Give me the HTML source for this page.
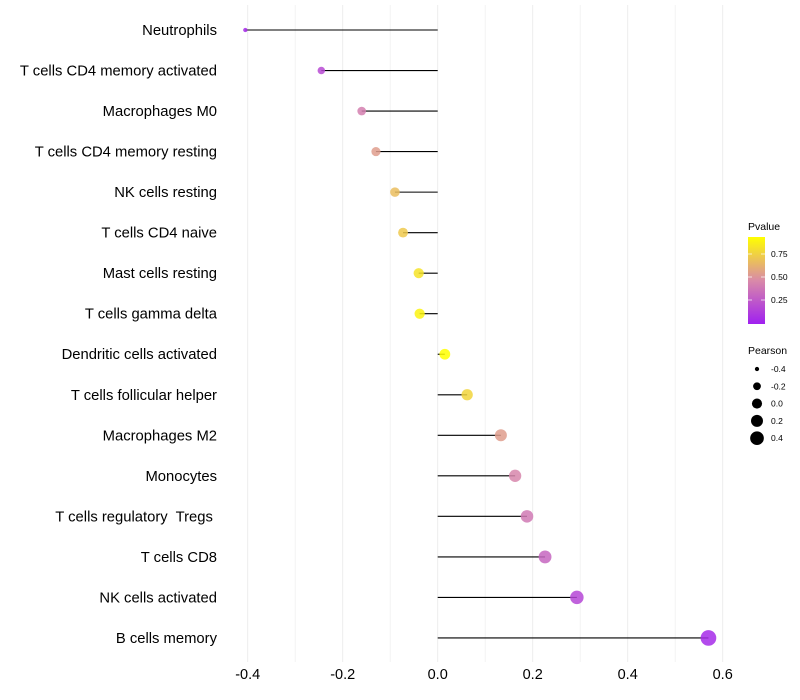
<!DOCTYPE html>
<html><head><meta charset="utf-8"><style>
body{margin:0;background:#fff;font-family:"Liberation Sans",sans-serif}
svg{display:block}
text{white-space:pre}
</style></head><body>
<svg id="chart" width="800" height="700" xmlns="http://www.w3.org/2000/svg">
<defs>
<linearGradient id="pg" x1="0" y1="1" x2="0" y2="0">
<stop offset="0" stop-color="#A020F0"/>
<stop offset="0.5" stop-color="#D98AA8"/>
<stop offset="1" stop-color="#FFFF00"/>
</linearGradient>
</defs>
<g id="grid"></g>
<g id="marks"></g>
<g id="ylabels"></g>
<g id="xlabels"></g>
<g>
<text x="748" y="230" font-size="10.5" fill="#000">Pvalue</text>
<rect x="748" y="237" width="17" height="87" fill="url(#pg)"/>
<line x1="748" y1="254" x2="752" y2="254" stroke="#fff" stroke-opacity="0.7"/><line x1="761" y1="254" x2="765" y2="254" stroke="#fff" stroke-opacity="0.7"/>
<line x1="748" y1="277" x2="752" y2="277" stroke="#fff" stroke-opacity="0.7"/><line x1="761" y1="277" x2="765" y2="277" stroke="#fff" stroke-opacity="0.7"/>
<line x1="748" y1="300" x2="752" y2="300" stroke="#fff" stroke-opacity="0.7"/><line x1="761" y1="300" x2="765" y2="300" stroke="#fff" stroke-opacity="0.7"/>
<text x="771" y="257" font-size="8.5">0.75</text>
<text x="771" y="280" font-size="8.5">0.50</text>
<text x="771" y="303" font-size="8.5">0.25</text>
</g>
<g id="sizelegend">
<text x="748" y="354" font-size="10.5" fill="#000">Pearson</text>
</g>
</svg>
<script>
const categories=["Neutrophils","T cells CD4 memory activated","Macrophages M0","T cells CD4 memory resting","NK cells resting","T cells CD4 naive","Mast cells resting","T cells gamma delta","Dendritic cells activated","T cells follicular helper","Macrophages M2","Monocytes","T cells regulatory  Tregs ","T cells CD8","NK cells activated","B cells memory"];
const pearson=[-0.405,-0.245,-0.16,-0.13,-0.09,-0.073,-0.04,-0.038,0.015,0.062,0.133,0.163,0.188,0.226,0.293,0.57];
const pvalue=[0.05,0.2,0.45,0.58,0.72,0.77,0.88,0.95,1.0,0.82,0.58,0.48,0.42,0.33,0.18,0.05];
const xTicks=[-0.4,-0.2,0.0,0.2,0.4,0.6];
const xTickLabels=["-0.4","-0.2","0.0","0.2","0.4","0.6"];
const xMinor=[-0.3,-0.1,0.1,0.3,0.5];
const sizeLegendVals=[-0.4,-0.2,0.0,0.2,0.4];

const NS="http://www.w3.org/2000/svg";
function x(v){return 437.7+v*475;}
function y(i){return 30+i*40.53;}
function r(v){return 1.12*Math.sqrt(Math.max(2,22.6+46.4*v));}
function mix(a,b,t){return a.map((c,i)=>Math.round(c+(b[i]-c)*t));}
function col(p){const P=[160,32,240],M=[217,138,168],Y=[255,255,0];
 const c=p<0.5?mix(P,M,p/0.5):mix(M,Y,(p-0.5)/0.5);return `rgb(${c[0]},${c[1]},${c[2]})`;}
function mk(tag,at,parent){const e=document.createElementNS(NS,tag);for(const k in at)e.setAttribute(k,at[k]);parent.appendChild(e);return e;}
const grid=document.getElementById('grid'),marks=document.getElementById('marks'),yl=document.getElementById('ylabels'),xl=document.getElementById('xlabels'),sl=document.getElementById('sizelegend');
xMinor.forEach(v=>{const l=mk('line',{x1:x(v),x2:x(v),y1:5,y2:662,stroke:'#f3f3f3','stroke-width':1},grid);

});
xTicks.forEach(v=>{const l=mk('line',{x1:x(v),x2:x(v),y1:5,y2:662,stroke:'#ededed','stroke-width':1},grid);

});
xTicks.forEach((v,i)=>{const t=mk('text',{x:x(v),y:679,'font-size':14.5,'text-anchor':'middle',fill:'#000'},xl);t.textContent=xTickLabels[i];

});
categories.forEach((c,i)=>{
 const t=mk('text',{x:217,y:y(i)+5,'font-size':14.8,'text-anchor':'end',fill:'#000'},yl);t.textContent=c;
 
 
 const l=mk('line',{x1:x(0),x2:x(pearson[i]),y1:y(i),y2:y(i),stroke:'#000','stroke-width':1.1},marks);
 
 
 const d=mk('circle',{cx:x(pearson[i]),cy:y(i),r:r(pearson[i]),fill:col(pvalue[i]),'fill-opacity':0.85},marks);
 
 
});
sizeLegendVals.forEach((v,i)=>{const cy=369+i*17.3;
 const d=mk('circle',{cx:757,cy:cy,r:r(v)*0.95,fill:'#000'},sl);
 
 
 const t=mk('text',{x:771,y:cy+3,'font-size':8.5},sl);t.textContent=v.toFixed(1);
 
 });
</script>
</body></html>
